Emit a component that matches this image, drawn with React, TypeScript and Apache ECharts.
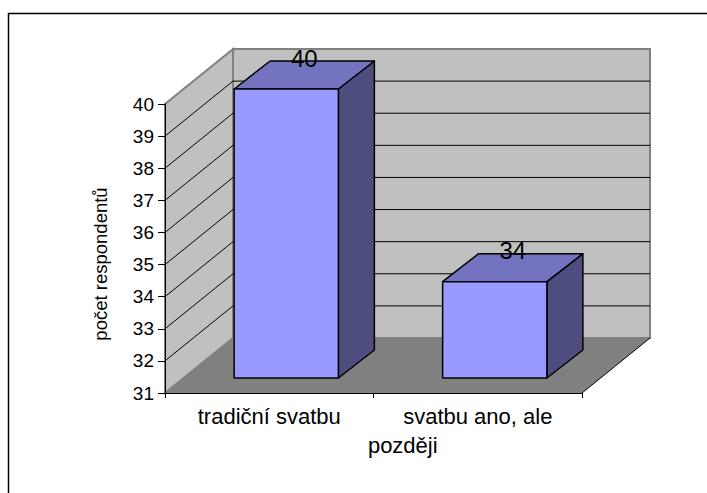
import React, { useEffect, useRef } from "react";
import * as echarts from "echarts";

const categories = ["tradiční svatbu", "svatbu ano, ale později"];
const values = [40, 34];
const yMin = 31;
const yMax = 40;
const yStep = 1;
const yTitle = "počet respondentů";

const FONT = "Arial, 'Liberation Sans', sans-serif";

export default function App() {
  const ref = useRef<HTMLDivElement>(null);

  useEffect(() => {
    const chart = echarts.init(ref.current!, null, { renderer: "svg" });

    const WDX = 68;
    const WDY = -55;

    const wallsRender = (params: any, api: any) => {
      const cs = params.coordSys;
      const x0 = cs.x;
      const x1 = cs.x + cs.width;
      const yb = api.coord([0, yMin])[1];
      const yt = api.coord([0, yMax])[1];
      const children: any[] = [];
      children.push({
        type: "polygon",
        shape: { points: [[x0 + WDX, yt + WDY], [x1 + WDX, yt + WDY], [x1 + WDX, yb + WDY], [x0 + WDX, yb + WDY]] },
        style: { fill: "#C0C0C0", stroke: "#808080", lineWidth: 2 },
      });
      children.push({
        type: "polygon",
        shape: { points: [[x0, yb], [x0, yt], [x0 + WDX, yt + WDY], [x0 + WDX, yb + WDY]] },
        style: { fill: "#C0C0C0", stroke: "#808080", lineWidth: 2 },
      });
      for (let v = yMin + yStep; v < yMax; v += yStep) {
        const y = api.coord([0, v])[1];
        children.push({
          type: "line",
          shape: { x1: x0 + WDX, y1: y + WDY, x2: x1 + WDX, y2: y + WDY },
          style: { stroke: "#000", lineWidth: 1 },
        });
        children.push({
          type: "line",
          shape: { x1: x0, y1: y, x2: x0 + WDX, y2: y + WDY },
          style: { stroke: "#000", lineWidth: 1 },
        });
      }
      children.push({
        type: "polygon",
        shape: { points: [[x0, yb], [x1, yb], [x1 + WDX, yb + WDY], [x0 + WDX, yb + WDY]] },
        style: { fill: "#808080", stroke: "none" },
      });
      children.push({
        type: "line",
        shape: { x1: x1, y1: yb, x2: x1 + WDX, y2: yb + WDY },
        style: { stroke: "#000", lineWidth: 1 },
      });
      return { type: "group", children };
    };

    const FX = 17, FY = -15, DX = 36, DY = -28;
    const barsRender = (params: any, api: any) => {
      const i = api.value(0);
      const v = api.value(1);
      const base = api.coord([i, yMin]);
      const top = api.coord([i, v]);
      const band = api.size([1, 0])[0];
      const w = band * 0.5;
      const l = base[0] - w / 2 + FX;
      const r = base[0] + w / 2 + FX;
      const t = top[1] + FY;
      const b = base[1] + FY;
      const stroke = { stroke: "#000", lineWidth: 1.5, lineJoin: "round" };
      return {
        type: "group",
        children: [
          {
            type: "polygon",
            shape: { points: [[r, t], [r, b], [r + DX, b + DY], [r + DX, t + DY]] },
            style: { fill: "#4D4D80", ...stroke },
          },
          {
            type: "polygon",
            shape: { points: [[l, t], [r, t], [r + DX, t + DY], [l + DX, t + DY]] },
            style: { fill: "#7373BF", ...stroke },
          },
          {
            type: "rect",
            shape: { x: l, y: t, width: w, height: b - t },
            style: { fill: "#9999FF", ...stroke },
          },
          {
            type: "text",
            x: (l + r) / 2 + DX / 2,
            y: t + DY - 3,
            style: {
              text: String(v),
              align: "center",
              verticalAlign: "middle",
              fontSize: 24,
              fontFamily: FONT,
              fill: "#000",
            },
          },
        ],
      };
    };

    const option: any = {
      animation: false,
      backgroundColor: "#fff",
      textStyle: { fontFamily: FONT },
      grid: { left: 165, right: 125, top: 104, bottom: 100, containLabel: false },
      xAxis: {
        type: "category",
        data: categories,
        z: 10,
        boundaryGap: true,
        axisLine: { show: true, lineStyle: { color: "#000", width: 1 } },
        axisTick: { show: true, length: 5, lineStyle: { color: "#000" } },
        splitLine: { show: false },
        axisLabel: {
          color: "#000",
          fontSize: 22,
          lineHeight: 29,
          margin: 9,
          fontFamily: FONT,
          interval: 0,
          formatter: (val: string) => {
            if (val.length > 16) {
              const k = val.lastIndexOf(" ");
              return val.slice(0, k) + "\n{l|" + val.slice(k + 1) + "}";
            }
            return val;
          },
          rich: {
            l: { fontSize: 22, lineHeight: 29, color: "#000", fontFamily: FONT, padding: [0, 150, 0, 0] },
          },
        },
      },
      yAxis: {
        type: "value",
        min: yMin,
        max: yMax,
        interval: yStep,
        z: 10,
        name: yTitle,
        nameLocation: "middle",
        nameGap: 55,
        nameRotate: 90,
        nameTextStyle: { color: "#000", fontSize: 18.5, fontFamily: FONT, padding: [0, 31, 0, 0] },
        axisLine: { show: true, lineStyle: { color: "#000", width: 1 } },
        axisTick: { show: true, length: 7, lineStyle: { color: "#000" } },
        splitLine: { show: false },
        axisLabel: { color: "#000", fontSize: 19, margin: 11, fontFamily: FONT },
      },
      graphic: [
        {
          type: "rect",
          shape: { x: 8.5, y: 13.5, width: 900, height: 700 },
          style: { fill: "none", stroke: "#000", lineWidth: 1.5 },
          silent: true,
        },
      ],
      series: [
        {
          type: "custom",
          name: "walls",
          z: 1,
          data: [[0, yMin]],
          renderItem: wallsRender,
          silent: true,
        },
        {
          type: "custom",
          name: "bars",
          z: 2,
          data: values.map((v, i) => [i, v]),
          encode: { x: 0, y: 1 },
          renderItem: barsRender,
        },
      ],
    };

    chart.setOption(option);
    return () => chart.dispose();
  }, []);

  return (
    <div
      ref={ref}
      style={{ position: "fixed", left: 0, top: 0, width: 707, height: 493, background: "#fff" }}
    />
  );
}
